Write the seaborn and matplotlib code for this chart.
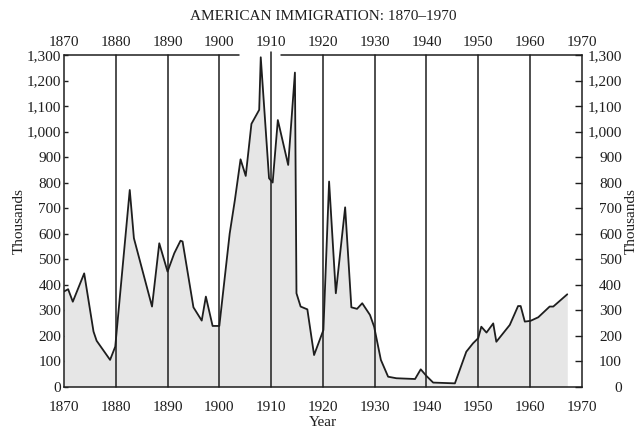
import numpy as np
import pandas as pd
import matplotlib
matplotlib.use("Agg")
import matplotlib.pyplot as plt
import seaborn as sns

# -----------------------------
# Data (thousands of immigrants)
# -----------------------------
years = [1870.0, 1870.8, 1871.7, 1873.9, 1875.7, 1876.3, 1878.9, 1879.9,
         1882.7, 1883.5, 1887.0, 1888.4, 1890.0, 1891.3, 1892.5, 1892.9,
         1895.0, 1896.6, 1897.4, 1898.7, 1900.0, 1902.0, 1903.0, 1904.1,
         1905.1, 1906.2, 1907.7, 1908.0, 1909.6, 1910.3, 1911.3, 1913.3,
         1914.6, 1914.9, 1915.7, 1917.0, 1918.3, 1920.1, 1921.2, 1922.5,
         1924.3, 1925.5, 1926.6, 1927.6, 1929.1, 1929.9, 1931.2, 1932.6,
         1934.2, 1937.8, 1938.9, 1940.0, 1941.3, 1945.5, 1947.7, 1949.0,
         1950.0, 1950.6, 1951.6, 1952.9, 1953.5, 1956.1, 1957.7, 1958.2,
         1959.0, 1960.1, 1961.6, 1963.8, 1964.5, 1967.2]
immigrants = [373, 382, 333, 444, 216, 180, 105, 157,
              771, 582, 314, 562, 451, 523, 572, 569,
              311, 259, 353, 238, 238, 600, 731, 891,
              826, 1030, 1085, 1291, 817, 800, 1045, 869,
              1231, 366, 314, 303, 124, 222, 804, 366,
              703, 311, 305, 327, 281, 235, 105, 39,
              33, 30, 68, 42, 16, 13, 137, 170,
              190, 235, 212, 248, 176, 242, 316, 316,
              255, 258, 272, 314, 314, 362]

decades = list(range(1870, 1971, 10))
y_ticks = list(range(0, 1301, 100))
y_labels = [f"{v:,}" for v in y_ticks]

df = pd.DataFrame({"Year": years, "Thousands": immigrants})

# -----------------------------
# Style
# -----------------------------
sns.set_style("ticks")
plt.rcParams["font.family"] = ["Liberation Serif", "DejaVu Serif"]
ink = "#1e1e1e"

fig = plt.figure(figsize=(6.4, 4.33), dpi=100)
ax = fig.add_axes([0.1, 0.107, 0.809, 0.766])

ax.fill_between(df["Year"], df["Thousands"], color="#e6e6e6", lw=0, zorder=1)
for d in decades[1:-1]:
    ax.axvline(d, ymin=0, ymax=1.01 if d == 1910 else 1, color=ink, lw=1.1,
               zorder=2, clip_on=False)
sns.lineplot(data=df, x="Year", y="Thousands", ax=ax, color=ink, lw=1.3,
             sort=False, zorder=3)

ax.set_xlim(1870, 1970)
ax.set_ylim(0, 1300)

# broken top border
ax.spines["top"].set_visible(False)
for s in ["left", "right", "bottom"]:
    ax.spines[s].set_color(ink)
    ax.spines[s].set_linewidth(1.1)
ax.plot([1870, 1903.8], [1300, 1300], color=ink, lw=1.1, clip_on=False, zorder=4)
ax.plot([1911.9, 1970], [1300, 1300], color=ink, lw=1.1, clip_on=False, zorder=4)

# x axis: bottom and top labels
ax.set_xticks(decades)
ax.tick_params(axis="x", length=0, pad=10, labelsize=11, colors=ink)
top = ax.secondary_xaxis("top")
top.set_xticks(decades)
top.tick_params(axis="x", length=0, pad=4, labelsize=11, colors=ink)
top.spines["top"].set_visible(False)

# y axis: left and right labels
ax.set_yticks(y_ticks)
ax.set_yticklabels(y_labels)
ax.tick_params(axis="y", direction="in", length=3, width=1, pad=2,
               labelsize=11, colors=ink)
right = ax.secondary_yaxis("right")
right.set_yticks(y_ticks)
right.set_yticklabels(y_labels)
right.tick_params(axis="y", direction="in", length=5, width=1, pad=29,
                  labelsize=11, colors=ink)
for lab in right.get_yticklabels():
    lab.set_horizontalalignment("right")
right.spines["right"].set_visible(False)

ax.set_xlabel("Year", fontsize=11, color=ink, labelpad=2)
ax.set_ylabel("Thousands", fontsize=11, color=ink, labelpad=1)
fig.text(0.986, 0.49, "Thousands", rotation=90, fontsize=11, color=ink,
         ha="center", va="center")
fig.text(0.505, 0.962, "AMERICAN IMMIGRATION: 1870\u20131970", fontsize=11,
         color=ink, ha="center", va="center")

fig.savefig("out.png", dpi=100)
